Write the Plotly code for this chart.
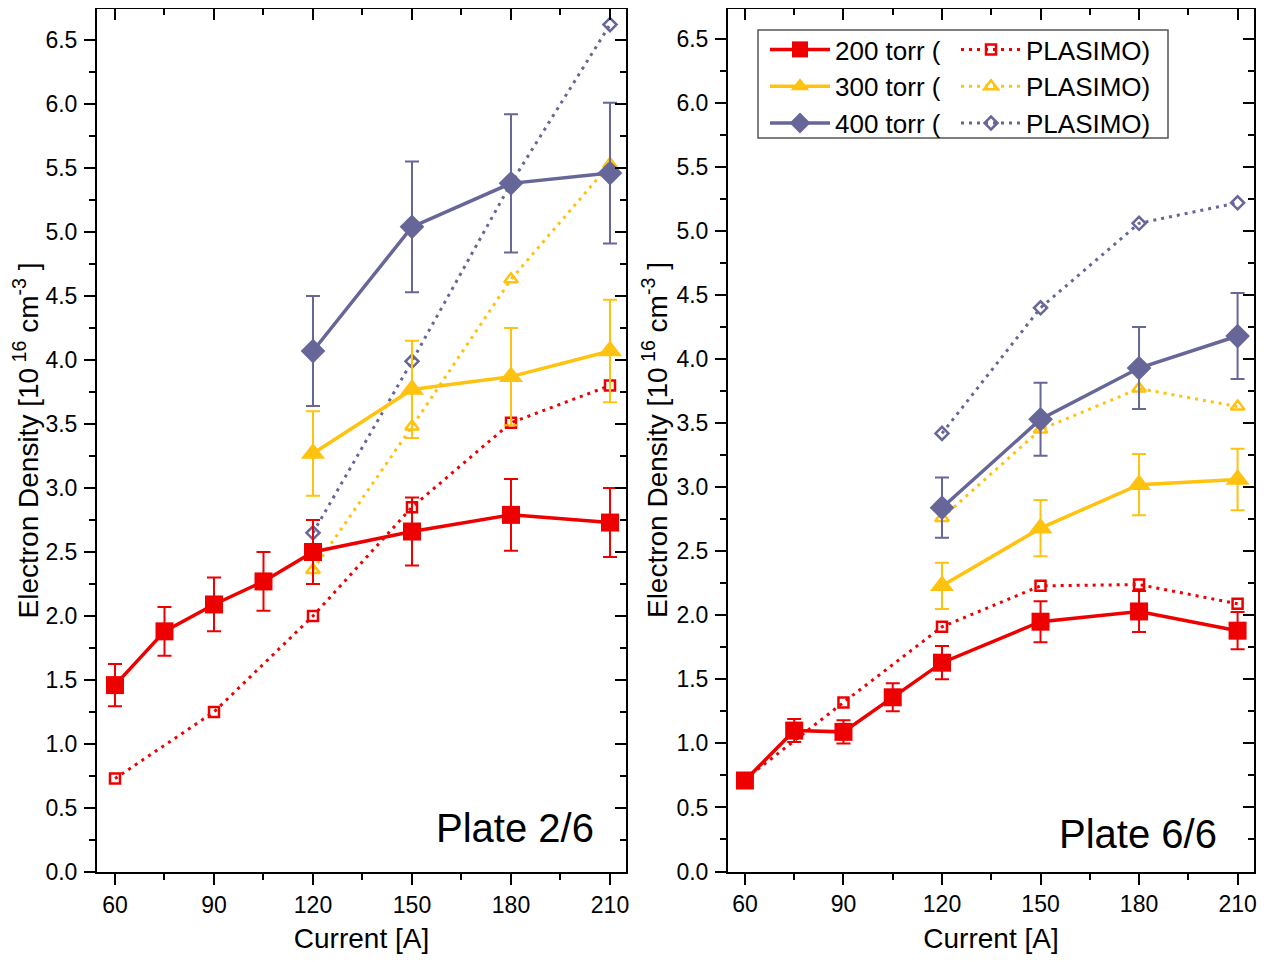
import plotly.graph_objects as go

# ---------------- data ----------------
currents_200 = [60, 75, 90, 105, 120, 150, 180, 210]
currents_hi = [120, 150, 180, 210]
currents_pl200 = [60, 90, 120, 150, 180, 210]

# Plate 2/6
p2_200 = [1.46, 1.88, 2.09, 2.27, 2.50, 2.66, 2.79, 2.73]
p2_200_err = [0.165, 0.19, 0.21, 0.23, 0.25, 0.265, 0.28, 0.27]
p2_300 = [3.27, 3.77, 3.87, 4.07]
p2_300_err = [0.33, 0.38, 0.38, 0.40]
p2_400 = [4.07, 5.04, 5.38, 5.46]
p2_400_err = [0.43, 0.51, 0.54, 0.55]
p2_200_pl = [0.73, 1.25, 2.00, 2.85, 3.51, 3.80]
p2_300_pl = [2.36, 3.48, 4.63, 5.53]
p2_400_pl = [2.65, 3.99, 5.38, 6.62]

# Plate 6/6
p6_200 = [0.71, 1.10, 1.09, 1.36, 1.63, 1.95, 2.03, 1.88]
p6_200_err = [0.05, 0.09, 0.09, 0.11, 0.13, 0.16, 0.16, 0.145]
p6_300 = [2.23, 2.68, 3.02, 3.06]
p6_300_err = [0.18, 0.22, 0.24, 0.24]
p6_400 = [2.84, 3.53, 3.93, 4.18]
p6_400_err = [0.235, 0.285, 0.32, 0.335]
p6_200_pl = [0.72, 1.32, 1.91, 2.23, 2.24, 2.09]
p6_300_pl = [2.76, 3.45, 3.77, 3.63]
p6_400_pl = [3.42, 4.40, 5.06, 5.22]

names_meas = ["200 torr (", "300 torr (", "400 torr ("]
name_pl = "PLASIMO)"
plate_labels = ["Plate 2/6", "Plate 6/6"]

# ---------------- style ----------------
RED = "#EE0000"
YEL = "#FFC20E"
PUR = "#666699"
FONT = "Liberation Sans, Arial, sans-serif"

# page body has an 8px margin; figure is sized so it fits the window
OFF = 8
W, H = 1270 - 2 * OFF, 962 - 2 * OFF


def PX(px):
    return min(1.0, max(0.0, (px - OFF) / W))


def PY(py):
    return min(1.0, max(0.0, 1 - (py - OFF) / H))


fig = go.Figure()


def add_panel(xa, ya, meas, errs, pls, show):
    cols = [RED, YEL, PUR]
    syms = ["square", "triangle-up", "diamond"]
    sizes = [18, 21, 19]
    osyms = ["square-open", "triangle-up-open", "diamond-open"]
    osizes = [10, 12, 10]
    xs_meas = [currents_200, currents_hi, currents_hi]
    xs_pl = [currents_pl200, currents_hi, currents_hi]
    for i in range(3):
        fig.add_trace(go.Scatter(
            x=xs_pl[i], y=pls[i], mode="lines+markers", name=name_pl,
            line=dict(color=cols[i], width=3, dash="3px,5px"),
            marker=dict(symbol=osyms[i], size=osizes[i], color=cols[i],
                        line=dict(width=2.5, color=cols[i])),
            xaxis=xa, yaxis=ya, showlegend=show, legend="legend2"))
    for i in range(3):
        fig.add_trace(go.Scatter(
            x=xs_meas[i], y=meas[i], mode="lines+markers", name=names_meas[i],
            line=dict(color=cols[i], width=3.5),
            marker=dict(symbol=syms[i], size=sizes[i], color=cols[i],
                        line=dict(width=0)),
            error_y=dict(type="data", array=errs[i], color=cols[i],
                         thickness=2, width=7),
            xaxis=xa, yaxis=ya, showlegend=show, legend="legend"))


add_panel("x", "y", [p2_200, p2_300, p2_400], [p2_200_err, p2_300_err, p2_400_err],
          [p2_200_pl, p2_300_pl, p2_400_pl], False)
add_panel("x2", "y2", [p6_200, p6_300, p6_400], [p6_200_err, p6_300_err, p6_400_err],
          [p6_200_pl, p6_300_pl, p6_400_pl], True)

# dummy traces for the mirrored (top/right) tick axes
for xa, ya in [("x3", "y3"), ("x4", "y4")]:
    fig.add_trace(go.Scatter(x=[None], y=[None], xaxis=xa, yaxis=ya,
                             showlegend=False, hoverinfo="skip"))

L_dom = [PX(97), PX(626)]
R_dom = [PX(728), PX(1254)]
Y_dom = [PY(872), PY(9)]
YR_dom = [PY(871.5), PY(8.6)]
xr_L = [54.55, 214.85]
xr_R = [54.84, 215.0]
yr_L = [0, 6.742]
yr_R = [0, 6.736]

tickfont = dict(family=FONT, size=23, color="black")
titlefont = dict(family=FONT, size=28, color="black")


def xax(dom, rng, anchor, main=True, overlay=None):
    d = dict(domain=dom, range=rng, anchor=anchor, tickmode="array",
             tickvals=[60, 90, 120, 150, 180, 210], showgrid=False, zeroline=False,
             linecolor="black", linewidth=2, tickcolor="black", tickwidth=2,
             ticklen=11, tickfont=tickfont,
             minor=dict(tickvals=[75, 105, 135, 165, 195], ticklen=6,
                        tickwidth=2, tickcolor="black", showgrid=False))
    if main:
        d.update(ticks="outside", showline=True, mirror=True,
                 title=dict(text="Current [A]", font=titlefont, standoff=27))
        d["minor"]["ticks"] = "outside"
    else:
        d.update(ticks="inside", showline=False, showticklabels=False,
                 side="top", overlaying=overlay)
        d["minor"]["ticks"] = "inside"
    return d


ytickvals = [0.5 * k for k in range(14)]
yminor = [0.25 + 0.5 * k for k in range(14)]


def yax(dom, rng, anchor, main=True, overlay=None):
    d = dict(domain=dom, range=rng, anchor=anchor, tickmode="array",
             tickvals=ytickvals, ticktext=[f"{v:.1f}" for v in ytickvals],
             showgrid=False, zeroline=False,
             linecolor="black", linewidth=2, tickcolor="black", tickwidth=2,
             ticklen=11, tickfont=tickfont,
             minor=dict(tickvals=yminor, ticklen=6, tickwidth=2,
                        tickcolor="black", showgrid=False))
    if main:
        d.update(ticks="outside", showline=True, mirror=True, ticklabelstandoff=2,
                 title=dict(text="Electron Density [10<sup> 16</sup> cm<sup>-3</sup> ]",
                            font=titlefont, standoff=1))
        d["minor"]["ticks"] = "outside"
    else:
        d.update(ticks="inside", showline=False, showticklabels=False,
                 side="right", overlaying=overlay)
        d["minor"]["ticks"] = "inside"
    return d


legfont = dict(family=FONT, size=26, color="black")

fig.update_layout(
    width=W, height=H,
    margin=dict(l=0, r=0, t=0, b=0, autoexpand=False),
    paper_bgcolor="white", plot_bgcolor="white",
    font=dict(family=FONT, color="black"),
    xaxis=xax(L_dom, xr_L, "y"),
    yaxis=yax(Y_dom, yr_L, "x"),
    xaxis2=xax(R_dom, xr_R, "y2"),
    yaxis2=yax(YR_dom, yr_R, "x2"),
    xaxis3=xax(L_dom, xr_L, "y", main=False, overlay="x"),
    yaxis3=yax(Y_dom, yr_L, "x", main=False, overlay="y"),
    xaxis4=xax(R_dom, xr_R, "y2", main=False, overlay="x2"),
    yaxis4=yax(YR_dom, yr_R, "x2", main=False, overlay="y2"),
    legend=dict(x=PX(836 - 71), y=PY(26), xanchor="left", yanchor="top",
                bgcolor="rgba(0,0,0,0)", borderwidth=0, itemwidth=60,
                font=legfont, tracegroupgap=0, traceorder="normal"),
    legend2=dict(x=PX(1027 - 71), y=PY(26), xanchor="left", yanchor="top",
                 bgcolor="rgba(0,0,0,0)", borderwidth=0, itemwidth=60,
                 font=legfont, tracegroupgap=0, traceorder="normal"),
    shapes=[dict(type="rect", xref="paper", yref="paper",
                 x0=PX(758), x1=PX(1168), y0=PY(138), y1=PY(30),
                 line=dict(color="#555555", width=1.5), fillcolor="rgba(0,0,0,0)")],
    annotations=[
        dict(text=plate_labels[0], x=PX(515), y=PY(828), xref="paper", yref="paper",
             xanchor="center", yanchor="middle",
             showarrow=False, font=dict(family=FONT, size=40, color="black")),
        dict(text=plate_labels[1], x=PX(1138), y=PY(834), xref="paper", yref="paper",
             xanchor="center", yanchor="middle",
             showarrow=False, font=dict(family=FONT, size=40, color="black")),
    ],
)

fig.write_html("out.html")
